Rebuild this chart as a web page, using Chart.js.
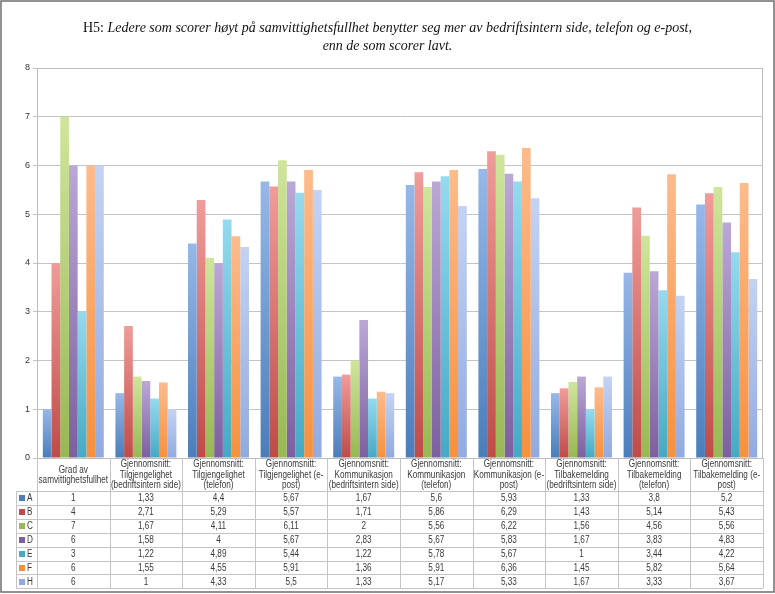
<!DOCTYPE html>
<html>
<head>
<meta charset="utf-8">
<script src="https://cdn.jsdelivr.net/npm/chart.js@4.4.0/dist/chart.umd.min.js"></script>
<style>
  body { margin: 0; background: #fff; }
  #wrap { position: relative; width: 775px; height: 594px; }
  #title { position: absolute; left: 0; top: 19px; width: 775px; text-align: center;
    font-family: 'Liberation Serif', 'DejaVu Serif', serif; font-size: 14px; line-height: 18px; color: #111; }
</style>
</head>
<body>
<div id="wrap">
  <canvas id="myChart"></canvas>
  <div id="title">H5: <i>Ledere som scorer høyt på samvittighetsfullhet benytter seg mer av bedriftsintern side, telefon og e-post,<br>enn de som scorer lavt.</i></div>
</div>
<script>
const labels = [
  ['Grad av', 'samvittighetsfullhet'],
  ['Gjennomsnitt:', 'Tilgjengelighet', '(bedriftsintern side)'],
  ['Gjennomsnitt:', 'Tilgjengelighet', '(telefon)'],
  ['Gjennomsnitt:', 'Tilgjengelighet (e-', 'post)'],
  ['Gjennomsnitt:', 'Kommunikasjon', '(bedriftsintern side)'],
  ['Gjennomsnitt:', 'Kommunikasjon', '(telefon)'],
  ['Gjennomsnitt:', 'Kommunikasjon (e-', 'post)'],
  ['Gjennomsnitt:', 'Tilbakemelding', '(bedriftsintern side)'],
  ['Gjennomsnitt:', 'Tilbakemelding', '(telefon)'],
  ['Gjennomsnitt:', 'Tilbakemelding (e-', 'post)']
];

const seriesNames = ['A', 'B', 'C', 'D', 'E', 'F', 'H'];
const dataA = [1, 1.33, 4.4, 5.67, 1.67, 5.6, 5.93, 1.33, 3.8, 5.2];
const dataB = [4, 2.71, 5.29, 5.57, 1.71, 5.86, 6.29, 1.43, 5.14, 5.43];
const dataC = [7, 1.67, 4.11, 6.11, 2, 5.56, 6.22, 1.56, 4.56, 5.56];
const dataD = [6, 1.58, 4, 5.67, 2.83, 5.67, 5.83, 1.67, 3.83, 4.83];
const dataE = [3, 1.22, 4.89, 5.44, 1.22, 5.78, 5.67, 1, 3.44, 4.22];
const dataF = [6, 1.55, 4.55, 5.91, 1.36, 5.91, 6.36, 1.45, 5.82, 5.64];
const dataH = [6, 1, 4.33, 5.5, 1.33, 5.17, 5.33, 1.67, 3.33, 3.67];
const allData = [dataA, dataB, dataC, dataD, dataE, dataF, dataH];

const yTicks = [0, 1, 2, 3, 4, 5, 6, 7, 8];

// couleurs : haut clair, bas foncé (style Excel 2007)
const topColors = ['#97B8E8', '#F09C9A', '#CFE59C', '#BBA8D6', '#95DAEF', '#FDBB8C', '#C4D3F3'];
const bottomColors = ['#4A7DBA', '#BE4B48', '#97B853', '#7C5F9F', '#45A9C4', '#F6913F', '#91AAE0'];

const tableFont = "'Liberation Sans', Arial, sans-serif";

function barGradient(ctx, i) {
  const chart = ctx.chart;
  const y = chart.scales.y;
  if (!chart.chartArea || !y || ctx.type !== 'data') return bottomColors[i];
  const v = allData[i][ctx.dataIndex];
  const top = y.getPixelForValue(v);
  const bottom = y.getPixelForValue(0);
  const g = chart.ctx.createLinearGradient(0, top, 0, bottom);
  g.addColorStop(0, topColors[i]);
  g.addColorStop(1, bottomColors[i]);
  return g;
}

const fmt = v => String(v).replace('.', ',');

const tablePlugin = {
  id: 'dataTable',
  afterDraw(chart) {
    const c = chart.ctx;
    const x = chart.scales.x;
    const area = chart.chartArea;
    const half = (x.getPixelForValue(1) - x.getPixelForValue(0)) / 2;
    const headTop = area.bottom;
    const headBottom = 491;
    const rowH = 13.9;
    const tableBottom = headBottom + rowH * seriesNames.length;
    const legendLeft = 16;

    c.save();
    // bordure zone de tracé
    c.strokeStyle = '#BDBDBD';
    c.lineWidth = 1;
    c.strokeRect(Math.round(area.left) + 0.5, Math.round(area.top) + 0.5,
      Math.round(area.right - area.left) - 1, Math.round(area.bottom - area.top));

    // lignes du tableau
    c.strokeStyle = '#C4C4C4';
    c.beginPath();
    for (let i = 0; i <= labels.length; i++) {
      const px = Math.round(x.getPixelForValue(0) - half + i * 2 * half) + 0.5;
      c.moveTo(px, headTop);
      c.lineTo(px, tableBottom);
    }
    c.moveTo(legendLeft + 0.5, headBottom);
    c.lineTo(legendLeft + 0.5, tableBottom);
    for (let r = 0; r <= seriesNames.length; r++) {
      const py = Math.round(headBottom + r * rowH) + 0.5;
      c.moveTo(legendLeft, py);
      c.lineTo(area.right, py);
    }
    c.stroke();

    // texte condensé (façon Calibri)
    c.font = '10px ' + tableFont;
    c.textBaseline = 'middle';
    const sx = 70 / c.measureText('(bedriftsintern side)').width;
    const put = (t, px, py, align) => {
      c.save();
      c.translate(px, py);
      c.scale(sx, 1);
      c.textAlign = align;
      c.fillText(t, 0, 0);
      c.restore();
    };

    // en-têtes
    c.fillStyle = '#3A3A3A';
    labels.forEach((lines, i) => {
      const cx = x.getPixelForValue(i);
      const mid = (headTop + headBottom) / 2 + 0.5;
      const lh = 10.5;
      lines.forEach((t, k) => {
        put(t, cx, mid + (k - (lines.length - 1) / 2) * lh, 'center');
      });
    });

    // lignes de valeurs
    seriesNames.forEach((name, r) => {
      const cy = headBottom + (r + 0.5) * rowH + 0.5;
      c.fillStyle = bottomColors[r];
      c.fillRect(19, Math.round(cy) - 3, 6, 6);
      c.fillStyle = '#3A3A3A';
      put(name, 27, cy, 'left');
      allData[r].forEach((v, i) => {
        put(fmt(v), x.getPixelForValue(i), cy, 'center');
      });
    });

    // cadre extérieur
    c.strokeStyle = '#6E6E6E';
    c.lineWidth = 1.5;
    c.strokeRect(1, 1, 773, 591);
    c.restore();
  }
};

new Chart(document.getElementById('myChart'), {
  type: 'bar',
  data: {
    labels: labels,
    datasets: seriesNames.map((name, i) => ({
      label: name,
      data: allData[i],
      backgroundColor: ctx => barGradient(ctx, i),
      borderWidth: 0,
      categoryPercentage: 0.84,
      barPercentage: 1.0
    }))
  },
  options: {
    responsive: true,
    maintainAspectRatio: false,
    animation: false,
    layout: { padding: { top: 68, bottom: 136, left: 0, right: 12 } },
    scales: {
      x: { display: false },
      y: {
        min: 0,
        max: 8,
        afterFit: s => { s.width = 37; },
        afterBuildTicks: s => { s.ticks = yTicks.map(v => ({ value: v })); },
        ticks: { padding: 3, color: '#333', font: { family: "'Liberation Sans', sans-serif", size: 9 } },
        grid: { color: '#C4C4C4', tickLength: 4 },
        border: { color: '#BDBDBD' }
      }
    },
    plugins: {
      legend: { display: false },
      tooltip: { enabled: false }
    }
  },
  plugins: [tablePlugin]
});
</script>
</body>
</html>
